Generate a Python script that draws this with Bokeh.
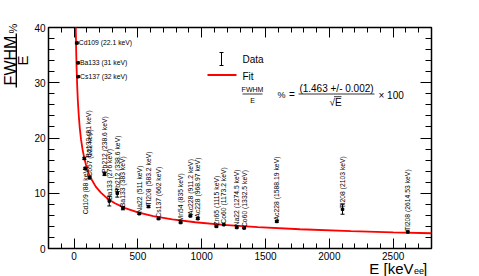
import numpy as np
from bokeh.plotting import figure
from bokeh.models import (ColumnDataSource, FixedTicker, LinearAxis,
                          Whisker, TeeHead, Range1d)
from bokeh.core.properties import value
from bokeh.embed import file_html
from bokeh.resources import INLINE

# ---------------- data ----------------
sources = ["Cd109", "Ba133", "Cs137", "Ba133", "Cd109", "Co57", "Pb212", "Ba133",
           "Pb212", "Ba133", "Na22", "Tl208", "Cs137", "Mn54", "Ac228", "Ac228",
           "Zn65", "Co60", "Na22", "Co60", "Ac228", "Tl208", "Tl208"]
energy_keV = [22.1, 31, 32, 81, 88, 122, 238.6, 276, 338.6, 383, 511, 583.2, 662,
              835, 911.2, 968.97, 1115, 1173.2, 1274.5, 1332.5, 1588.19, 2103, 2614.53]
energy_text = ["22.1", "31", "32", "81", "88", "122", "238.6", "276", "338.6", "383",
               "511", "583.2", "662", "835", "911.2", "968.97", "1115", "1173.2",
               "1274.5", "1332.5", "1588.19", "2103", "2614.53"]
fwhm_pct = [37.2, 33.6, 31.1, 16.3, 14.5, 12.8, 13.5, 8.6, 10.0, 7.3, 6.3, 7.6, 5.4,
            4.7, 5.9, 5.4, 4.0, 4.3, 3.8, 3.7, 4.9, 7.1, 3.0]
fwhm_err = [0.15, 0.15, 0.15, 0.2, 0.2, 0.2, 0.3, 0.9, 0.7, 0.3, 0.15, 0.2, 0.1,
            0.1, 0.15, 0.15, 0.1, 0.1, 0.1, 0.1, 0.15, 0.9, 0.15]

# fit curve
fit_energy = [8, 10, 13, 16, 20, 25, 30, 37, 45, 55, 67, 80, 95, 115, 140, 170, 210,
              260, 320, 400, 500, 620, 770, 950, 1170, 1440, 1770, 2170, 2500, 2800]
fit_fwhm = [51.7, 46.3, 40.6, 36.6, 32.7, 29.3, 26.7, 24.1, 21.8, 19.7, 17.9, 16.4,
            15.0, 13.6, 12.4, 11.2, 10.1, 9.07, 8.18, 7.31, 6.54, 5.88, 5.27, 4.75,
            4.28, 3.86, 3.48, 3.14, 2.93, 2.76]

x_ticks = [0, 500, 1000, 1500, 2000, 2500]
x_minor = list(range(-100, 2801, 100))
y_ticks = [0, 10, 20, 30, 40]
y_minor = list(range(0, 41, 2))
fit_numerator = "(1.463 +/- 0.002)"

# ---------------- layout ----------------
FONT = "Liberation Sans"
W, H = 479, 276
ML, MR, MT, MB = 48, 48, 27, 28
X0, X1 = -200, 2800
Y0, Y1 = 0, 40
FW = W - ML - MR
FH = H - MT - MB


def dx(px):
    """canvas pixel x -> data x"""
    return X0 + (px - ML) / FW * (X1 - X0)


def dy(py):
    """canvas pixel y -> data y"""
    return Y0 + (H - MB - py) / FH * (Y1 - Y0)


p = figure(width=W, height=H, x_range=Range1d(X0, X1), y_range=Range1d(Y0, Y1),
           output_backend="svg", toolbar_location=None,
           min_border_left=ML, min_border_right=MR, min_border_top=MT,
           min_border_bottom=MB)
p.grid.visible = False
p.outline_line_color = "black"
p.outline_line_width = 1.5
p.background_fill_color = "white"
p.border_fill_color = "white"


def style_axis(ax, major_in, minor_in, show, standoff, ticks):
    ax.axis_line_color = None
    ax.major_tick_in = major_in
    ax.major_tick_out = 0
    ax.minor_tick_in = minor_in
    ax.minor_tick_out = 0
    ax.major_tick_line_color = "black"
    ax.minor_tick_line_color = "black"
    ax.major_tick_line_width = 1
    ax.minor_tick_line_width = 1
    ax.major_label_text_font = FONT
    ax.major_label_text_color = "black"
    ax.major_label_text_font_size = "10px"
    ax.major_label_standoff = standoff
    if not show:
        ax.major_label_overrides = {t: "" for t in ticks}


xt = FixedTicker(ticks=x_ticks, minor_ticks=x_minor)
yt = FixedTicker(ticks=y_ticks, minor_ticks=y_minor)
p.xaxis[0].ticker = xt
p.yaxis[0].ticker = yt
style_axis(p.xaxis[0], 10, 5, True, 3, x_ticks)
style_axis(p.yaxis[0], 11, 6, True, 3, y_ticks)
top = LinearAxis(ticker=xt)
style_axis(top, 10, 5, False, 0, x_ticks)
p.add_layout(top, "above")
right = LinearAxis(ticker=yt)
style_axis(right, 11, 6, False, 0, y_ticks)
p.add_layout(right, "right")


# ---------------- helpers (overlay level: drawn outside the frame too) ----------------
def txt(px, py, s, size, align="left", base="middle", angle=0.0, level="overlay"):
    p.text(x=[dx(px)], y=[dy(py)], text=[s], angle=angle,
           text_font=value(FONT), text_font_size=size, text_color="black",
           text_align=align, text_baseline=base, level=level)


def seg(x0, y0, x1, y1, color="black", width=1.0, level="overlay"):
    p.segment(x0=[dx(x0)], y0=[dy(y0)], x1=[dx(x1)], y1=[dy(y1)],
              line_color=color, line_width=width, level=level)


# ---------------- axis titles ----------------
txt(10, 60, "FWHM", "16px", align="center", angle=np.pi / 2)
seg(15.8, 33, 15.8, 87, width=1.4)
txt(21.5, 60, "E", "15px", align="center", angle=np.pi / 2)
txt(12, 28, "%", "11px", align="center", angle=np.pi / 2)

txt(413, 268, "E [keV", "15px", align="right", base="alphabetic")
txt(413.5, 270.5, "ee", "9px", align="left", base="alphabetic")
txt(422.5, 267.5, "]", "15px", align="left", base="alphabetic")

# ---------------- fit curve ----------------
p.line(fit_energy, fit_fwhm, line_color="#ff0000", line_width=1.8)

# ---------------- data points ----------------
src = ColumnDataSource(dict(
    x=energy_keV, y=fwhm_pct,
    lo=[v - e for v, e in zip(fwhm_pct, fwhm_err)],
    hi=[v + e for v, e in zip(fwhm_pct, fwhm_err)]))
p.add_layout(Whisker(source=src, base="x", lower="lo", upper="hi",
                     line_color="black", line_width=1,
                     lower_head=TeeHead(size=4, line_width=1, line_color="black"),
                     upper_head=TeeHead(size=4, line_width=1, line_color="black")))
p.scatter("x", "y", source=src, marker="square", size=2.5, color="black")

# ---------------- point labels ----------------
labels = [f"{s}  ({e} keV)" for s, e in zip(sources, energy_text)]
label_x = list(energy_keV)
label_y = list(fwhm_pct)
label_x[3] = 115      # Ba133 (81 keV) label drawn a little to the right
label_y[4] = 6.0      # Cd109 (88 keV) label drawn lower

nh = 3
p.text(x=label_x[:nh], y=label_y[:nh], text=labels[:nh], x_offset=2,
       text_font=value(FONT), text_font_size="6.8px", text_color="black",
       text_align="left", text_baseline="middle")
p.text(x=label_x[nh:], y=label_y[nh:], text=labels[nh:], angle=np.pi / 2,
       y_offset=-1,
       text_font=value(FONT), text_font_size="6.8px", text_color="black",
       text_align="left", text_baseline="alphabetic")

# ---------------- legend ----------------
seg(221, 52, 221, 65, level="glyph")
seg(219, 52, 223, 52, level="glyph")
seg(219, 65, 223, 65, level="glyph")
txt(242, 59, "Data", "10px", level="glyph")
seg(207, 74.5, 236, 74.5, color="#ff0000", width=1.8, level="glyph")
txt(242, 76, "Fit", "10px", level="glyph")
txt(252, 88.5, "FWHM", "7px", align="center", level="glyph")
seg(242, 93.5, 262, 93.5, width=0.8, level="glyph")
txt(252, 99.5, "E", "7px", align="center", level="glyph")
txt(277, 94.5, "%", "9px", level="glyph")
txt(288.5, 94, "=", "10px", level="glyph")
txt(336, 87.5, fit_numerator, "10px", align="center", level="glyph")
seg(298, 93.5, 374, 93.5, width=0.8, level="glyph")
txt(335, 101.5, "√E", "10px", align="center", level="glyph")
seg(333.5, 96.2, 341, 96.2, width=0.8, level="glyph")
txt(378, 94.5, "× 100", "10px", level="glyph")

open("out.html", "w").write(file_html(p, INLINE))
